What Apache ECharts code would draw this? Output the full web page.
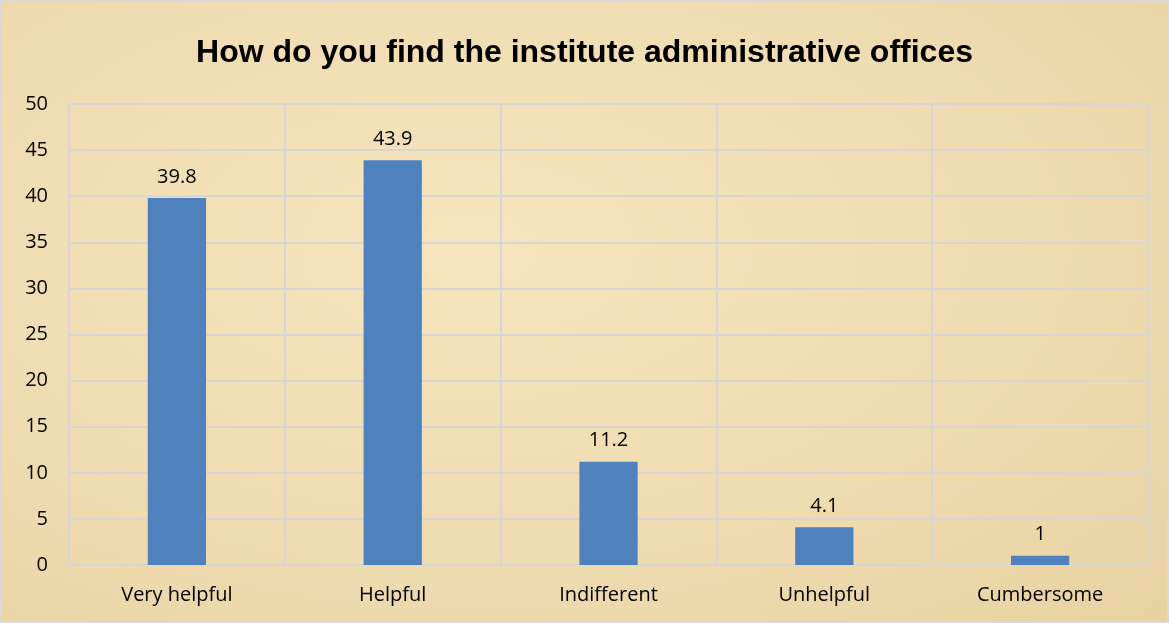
<!DOCTYPE html>
<html lang="en">
<head>
    <meta charset="UTF-8">
    <title>Administrative offices</title>
    <script src="https://cdn.jsdelivr.net/npm/echarts@6/dist/echarts.min.js"></script>
    <style>
        html, body { margin: 0; padding: 0; }
        #main { width: 1169px; height: 623px; box-sizing: border-box; border: 2px solid #d9d9d9;
            background: radial-gradient(ellipse at 40% 40%, #f5e4bd 0%, #efdbb0 60%, #e8d2a2 100%); }
    </style>
</head>
<body>
<div id="main"></div>
<script type="text/javascript">
    var categories = ['Very helpful', 'Helpful', 'Indifferent', 'Unhelpful', 'Cumbersome'];
    var values = [39.8, 43.9, 11.2, 4.1, 1];
    var yTicks = [0, 50, 5];   // min, max, interval

    var myChart = echarts.init(document.getElementById('main'));
    var gridColor = '#d6d6d6';
    var option = {
        textStyle: { fontFamily: 'Open Sans' },
        title: {
            text: 'How do you find the institute administrative offices',
            left: 'center',
            top: 30,
            textStyle: { fontSize: 32, fontWeight: 'bold', color: '#000', fontFamily: 'Liberation Sans' }
        },
        grid: { left: 67, right: 19, top: 102, bottom: 56 },
        xAxis: {
            type: 'category',
            data: categories,
            axisLine: { show: true, lineStyle: { color: gridColor, width: 2 } },
            axisTick: { show: false },
            axisLabel: { color: '#000', fontSize: 20, margin: 20, fontFamily: 'Open Sans' },
            splitLine: { show: true, lineStyle: { color: gridColor, width: 2 } }
        },
        yAxis: {
            type: 'value',
            min: yTicks[0],
            max: yTicks[1],
            interval: yTicks[2],
            axisLine: { show: false },
            axisTick: { show: false },
            axisLabel: { color: '#000', fontSize: 20, margin: 21, fontFamily: 'Open Sans' },
            splitLine: { show: true, lineStyle: { color: gridColor, width: 2 } }
        },
        series: [{
            type: 'bar',
            data: values,
            barWidth: '27%',
            itemStyle: { color: '#4f81bd' },
            label: { show: true, position: 'top', distance: 11, color: '#000', fontSize: 20, fontFamily: 'Open Sans' }
        }]
    };
    myChart.setOption(option);
</script>
</body>
</html>
